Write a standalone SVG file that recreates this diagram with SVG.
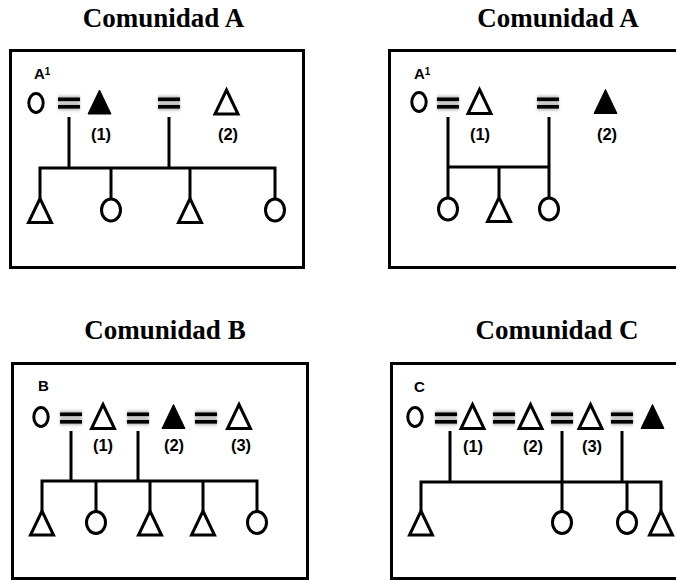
<svg xmlns="http://www.w3.org/2000/svg" xmlns:xlink="http://www.w3.org/1999/xlink" width="676" height="581" viewBox="0 0 676 581">
<style>
.title{font-family:"Liberation Serif","Times New Roman",serif;font-weight:bold;font-size:27px;fill:#000;text-anchor:middle}
.lbl{font-family:"Liberation Sans",Arial,sans-serif;font-weight:bold;font-size:16.5px;fill:#000;text-anchor:middle}
.tag{font-family:"Liberation Sans",Arial,sans-serif;font-weight:bold;font-size:15px;fill:#000}
.sup{font-size:10px}
.box{fill:none;stroke:#000;stroke-width:3}
.ln{fill:none;stroke:#000;stroke-width:3}
.open{fill:none;stroke:#000;stroke-width:3;stroke-linejoin:miter}
.solid{fill:#000;stroke:#000;stroke-width:1}
.bar{fill:#000}
</style>
<defs>
<filter id="blur" x="-20%" y="-80%" width="140%" height="260%">
<feGaussianBlur in="SourceGraphic" stdDeviation="0.8 2.2" result="b"/>
<feColorMatrix in="b" type="matrix" values="0 0 0 0 0  0 0 0 0 0  0 0 0 0 0  0 0 0 0.55 0" result="c"/>
<feMerge><feMergeNode in="c"/><feMergeNode in="SourceGraphic"/></feMerge>
</filter>
<path id="tri" d="M0,-12 L11.5,12 L-11.5,12 Z"/>
<ellipse id="oTop" cx="0" cy="0" rx="7.2" ry="9.4"/>
<ellipse id="oBot" cx="0" cy="0" rx="9.5" ry="11"/>
<g id="eq" filter="url(#blur)"><rect class="bar" x="0" y="-5.5" width="22" height="3.6"/><rect class="bar" x="0" y="2" width="22" height="3.6"/></g>
</defs>
<rect width="676" height="581" fill="#fff"/>

<g id="titles">
<text class="title" x="163.5" y="27">Comunidad A</text>
<text class="title" x="558" y="27">Comunidad A</text>
<text class="title" x="165" y="339">Comunidad B</text>
<text class="title" x="557" y="339">Comunidad C</text>
</g>

<g id="panelA1">
<rect class="box" x="10.5" y="50.5" width="293" height="217"/>
<text class="tag" x="34" y="79">A<tspan class="sup" dy="-4">1</tspan></text>
<g id="connectorsA1">
<path class="ln" d="M69,117 V168 M169,117 V168 M38.5,168 H276.5 M40,168 V198 M111,168 V199 M190,168 V198 M275,168 V199"/>
</g>
<g id="A1_f"><use href="#oTop" x="36" y="103" class="open"/></g>
<g id="A1_eq1"><use href="#eq" x="58" y="103"/></g>
<g id="A1_m1"><use href="#tri" x="99.5" y="102" class="solid"/><text class="lbl" x="101" y="140">(1)</text></g>
<g id="A1_eq2"><use href="#eq" x="158" y="103"/></g>
<g id="A1_m2"><use href="#tri" x="226.5" y="102" class="open"/><text class="lbl" x="228" y="140">(2)</text></g>
<g id="A1_c1"><use href="#tri" x="40" y="210.5" class="open"/></g>
<g id="A1_c2"><use href="#oBot" x="111" y="210" class="open"/></g>
<g id="A1_c3"><use href="#tri" x="190" y="210.5" class="open"/></g>
<g id="A1_c4"><use href="#oBot" x="275" y="210" class="open"/></g>
</g>

<g id="panelA2">
<rect class="box" x="389.5" y="50.5" width="300" height="217"/>
<text class="tag" x="414" y="79">A<tspan class="sup" dy="-4">1</tspan></text>
<g id="connectorsA2">
<path class="ln" d="M448,117 V198 M549,117 V198 M448,167 H549 M499,167 V197"/>
</g>
<g id="A2_f"><use href="#oTop" x="419" y="102" class="open"/></g>
<g id="A2_eq1"><use href="#eq" x="437" y="103"/></g>
<g id="A2_m1"><use href="#tri" x="479.5" y="101.5" class="open"/><text class="lbl" x="480" y="140">(1)</text></g>
<g id="A2_eq2"><use href="#eq" x="537" y="103"/></g>
<g id="A2_m2"><use href="#tri" x="605.5" y="101.5" class="solid"/><text class="lbl" x="607" y="140">(2)</text></g>
<g id="A2_c1"><use href="#oBot" x="448" y="209" class="open"/></g>
<g id="A2_c2"><use href="#tri" x="499" y="209.5" class="open"/></g>
<g id="A2_c3"><use href="#oBot" x="549" y="209" class="open"/></g>
</g>

<g id="panelB">
<rect class="box" x="12.5" y="363.5" width="295" height="215"/>
<text class="tag" x="38" y="391">B</text>
<g id="connectorsB">
<path class="ln" d="M71,431 V481 M138,431 V481 M40.5,481 H258.5 M42,481 V511 M96,481 V511 M150,481 V511 M203,481 V511 M257,481 V511"/>
</g>
<g id="B_f"><use href="#oTop" x="41" y="417" class="open"/></g>
<g id="B_eq1"><use href="#eq" x="60" y="418"/></g>
<g id="B_m1"><use href="#tri" x="103" y="416.5" class="open"/><text class="lbl" x="103" y="451">(1)</text></g>
<g id="B_eq2"><use href="#eq" x="127" y="418"/></g>
<g id="B_m2"><use href="#tri" x="173.5" y="416.5" class="solid"/><text class="lbl" x="174" y="451">(2)</text></g>
<g id="B_eq3"><use href="#eq" x="195" y="418"/></g>
<g id="B_m3"><use href="#tri" x="239" y="416.5" class="open"/><text class="lbl" x="241" y="451">(3)</text></g>
<g id="B_c1"><use href="#tri" x="42" y="523" class="open"/></g>
<g id="B_c2"><use href="#oBot" x="96" y="522.5" class="open"/></g>
<g id="B_c3"><use href="#tri" x="150" y="523" class="open"/></g>
<g id="B_c4"><use href="#tri" x="203" y="523" class="open"/></g>
<g id="B_c5"><use href="#oBot" x="257" y="522.5" class="open"/></g>
</g>

<g id="panelC">
<rect class="box" x="391.5" y="363.5" width="300" height="215"/>
<text class="tag" x="414" y="392">C</text>
<g id="connectorsC">
<path class="ln" d="M450,431 V482 M562,431 V511 M622,431 V482 M419.5,482 H662.5 M421,482 V511 M627,482 V511 M661,482 V511"/>
</g>
<g id="C_f"><use href="#oTop" x="415" y="417" class="open"/></g>
<g id="C_eq1"><use href="#eq" x="435" y="418"/></g>
<g id="C_m1"><use href="#tri" x="472.5" y="416.5" class="open"/><text class="lbl" x="473" y="452">(1)</text></g>
<g id="C_eq2"><use href="#eq" x="493" y="418"/></g>
<g id="C_m2"><use href="#tri" x="530.5" y="416.5" class="open"/><text class="lbl" x="533" y="452">(2)</text></g>
<g id="C_eq3"><use href="#eq" x="551" y="418"/></g>
<g id="C_m3"><use href="#tri" x="590.5" y="416.5" class="open"/><text class="lbl" x="592" y="452">(3)</text></g>
<g id="C_eq4"><use href="#eq" x="611" y="418"/></g>
<g id="C_m4"><use href="#tri" x="652.5" y="416.5" class="solid"/></g>
<g id="C_c1"><use href="#tri" x="421" y="523" class="open"/></g>
<g id="C_c2"><use href="#oBot" x="562" y="522.5" class="open"/></g>
<g id="C_c3"><use href="#oBot" x="627" y="522.5" class="open"/></g>
<g id="C_c4"><use href="#tri" x="661" y="523" class="open"/></g>
</g>
</svg>
